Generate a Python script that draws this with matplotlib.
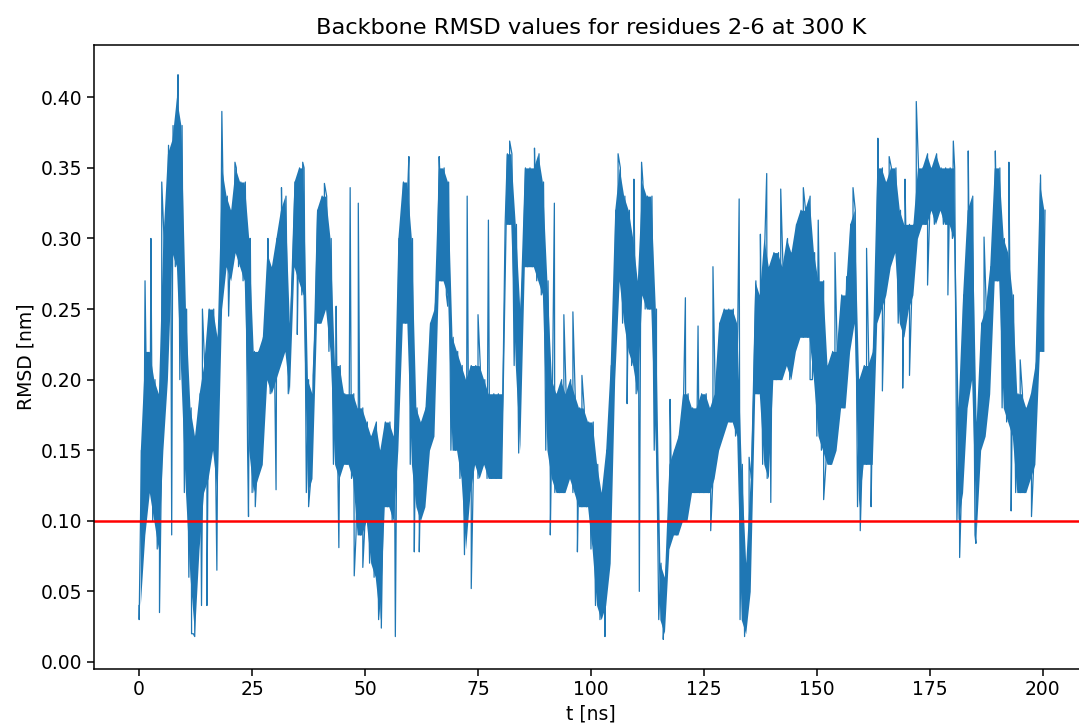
import numpy as np
import matplotlib as mpl
mpl.use('Agg')
import matplotlib.pyplot as plt

# sampled time in ns, one entry per ns
t_ns = np.arange(0, 201)

# lower / upper edge of the dense RMSD band in each ns (nm)
rmsd_lo = [0.04, 0.09, 0.12, 0.10, 0.08, 0.15, 0.20, 0.29, 0.28, 0.20,
           0.12, 0.06, 0.02, 0.08, 0.12, 0.13, 0.15, 0.12, 0.25, 0.28,
           0.27, 0.29, 0.28, 0.27, 0.15, 0.12, 0.13, 0.14, 0.20, 0.19,
           0.20, 0.21, 0.22, 0.19, 0.28, 0.27, 0.26, 0.12, 0.13, 0.24,
           0.24, 0.25, 0.22, 0.14, 0.13, 0.14, 0.14, 0.13, 0.09, 0.09,
           0.10, 0.07, 0.06, 0.03, 0.11, 0.11, 0.10, 0.15, 0.24, 0.24,
           0.14, 0.11, 0.10, 0.11, 0.15, 0.16, 0.27, 0.27, 0.26, 0.15,
           0.15, 0.13, 0.08, 0.12, 0.14, 0.13, 0.14, 0.13, 0.13, 0.13,
           0.13, 0.31, 0.31, 0.21, 0.15, 0.28, 0.28, 0.28, 0.27, 0.26,
           0.15, 0.13, 0.12, 0.12, 0.12, 0.13, 0.12, 0.11, 0.11, 0.11,
           0.08, 0.04, 0.03, 0.04, 0.07, 0.20, 0.27, 0.24, 0.22, 0.21,
           0.19, 0.26, 0.25, 0.25, 0.15, 0.03, 0.02, 0.08, 0.09, 0.09,
           0.10, 0.10, 0.12, 0.12, 0.12, 0.12, 0.12, 0.13, 0.15, 0.16,
           0.17, 0.17, 0.16, 0.03, 0.02, 0.05, 0.19, 0.19, 0.14, 0.13,
           0.20, 0.20, 0.20, 0.21, 0.20, 0.22, 0.23, 0.23, 0.23, 0.20,
           0.16, 0.15, 0.14, 0.14, 0.15, 0.18, 0.18, 0.22, 0.24, 0.11,
           0.14, 0.14, 0.14, 0.24, 0.25, 0.26, 0.28, 0.29, 0.24, 0.23,
           0.25, 0.26, 0.30, 0.31, 0.31, 0.32, 0.31, 0.32, 0.31, 0.31,
           0.30, 0.10, 0.12, 0.18, 0.20, 0.09, 0.15, 0.16, 0.19, 0.27,
           0.27, 0.18, 0.17, 0.16, 0.12, 0.12, 0.12, 0.13, 0.14, 0.22,
           0.22]
rmsd_hi = [0.15, 0.22, 0.22, 0.20, 0.19, 0.30, 0.36, 0.37, 0.40, 0.38,
           0.25, 0.18, 0.16, 0.19, 0.21, 0.25, 0.25, 0.23, 0.35, 0.33,
           0.32, 0.35, 0.34, 0.34, 0.30, 0.22, 0.22, 0.23, 0.29, 0.28,
           0.30, 0.32, 0.33, 0.24, 0.34, 0.35, 0.35, 0.20, 0.19, 0.32,
           0.33, 0.33, 0.30, 0.21, 0.21, 0.19, 0.19, 0.19, 0.18, 0.18,
           0.17, 0.16, 0.17, 0.15, 0.17, 0.17, 0.16, 0.30, 0.34, 0.34,
           0.30, 0.18, 0.17, 0.18, 0.24, 0.25, 0.35, 0.35, 0.34, 0.23,
           0.22, 0.21, 0.20, 0.21, 0.21, 0.21, 0.20, 0.19, 0.19, 0.19,
           0.19, 0.36, 0.36, 0.31, 0.25, 0.35, 0.35, 0.35, 0.36, 0.34,
           0.27, 0.20, 0.19, 0.20, 0.19, 0.20, 0.19, 0.18, 0.18, 0.17,
           0.17, 0.14, 0.12, 0.15, 0.21, 0.32, 0.35, 0.33, 0.32, 0.30,
           0.27, 0.34, 0.33, 0.33, 0.25, 0.07, 0.06, 0.14, 0.15, 0.16,
           0.19, 0.19, 0.18, 0.18, 0.19, 0.19, 0.18, 0.19, 0.24, 0.25,
           0.25, 0.25, 0.24, 0.14, 0.07, 0.13, 0.27, 0.26, 0.30, 0.28,
           0.29, 0.29, 0.28, 0.30, 0.29, 0.31, 0.32, 0.32, 0.33, 0.29,
           0.27, 0.27, 0.21, 0.22, 0.22, 0.26, 0.26, 0.31, 0.32, 0.20,
           0.21, 0.21, 0.22, 0.35, 0.35, 0.34, 0.35, 0.35, 0.32, 0.31,
           0.31, 0.31, 0.35, 0.35, 0.36, 0.35, 0.36, 0.35, 0.35, 0.35,
           0.35, 0.18, 0.26, 0.32, 0.33, 0.17, 0.24, 0.25, 0.28, 0.35,
           0.35, 0.30, 0.29, 0.26, 0.19, 0.19, 0.18, 0.19, 0.21, 0.34,
           0.32]

# single-frame excursions outside the band
spike_t = [0.0, 1.3, 2.6, 4.5, 5.0, 6.5, 7.2, 7.5, 8.6, 11.6, 12.3, 13.8, 14.0,
           15.0, 17.2, 18.3, 19.8, 21.2, 24.2, 24.6, 25.7, 28.5, 30.3, 31.5,
           35.0, 36.2, 37.5, 38.5, 41.0, 43.6, 44.2, 46.7, 47.6, 48.5, 49.5,
           53.6, 56.7, 59.7, 60.9, 62.0, 66.4, 68.3, 72.0, 72.6, 73.5, 75.0,
           77.3, 82.0, 84.0, 87.5, 91.0, 91.9, 94.0, 96.0, 97.0, 98.0, 103.1,
           106.0, 108.0, 109.5, 110.7, 111.2, 114.5, 116.0, 117.5, 120.9,
           123.7, 126.5, 127.0, 132.8, 134.0, 135.0, 137.5, 138.9, 139.8,
           142.0, 147.0, 148.5, 150.3, 151.5, 154.0, 156.6, 158.0, 159.6,
           161.0, 162.0, 163.5, 164.5, 166.0, 169.0, 169.5, 170.5, 172.0,
           174.5, 179.0, 180.2, 181.6, 183.5, 185.2, 187.0, 189.5, 192.5,
           193.0, 195.0, 197.5, 199.5]
spike_v = [0.03, 0.27, 0.30, 0.035, 0.34, 0.366, 0.09, 0.38, 0.416, 0.02, 0.018,
           0.04, 0.25, 0.04, 0.065, 0.39, 0.245, 0.354, 0.103, 0.30, 0.11, 0.30,
           0.122, 0.336, 0.232, 0.354, 0.11, 0.203, 0.339, 0.252, 0.081, 0.336,
           0.061, 0.325, 0.067, 0.024, 0.018, 0.358, 0.078, 0.078, 0.358, 0.252,
           0.076, 0.33, 0.052, 0.246, 0.313, 0.369, 0.148, 0.364, 0.09, 0.325,
           0.246, 0.248, 0.078, 0.203, 0.018, 0.36, 0.183, 0.342, 0.05, 0.354,
           0.171, 0.016, 0.186, 0.258, 0.238, 0.093, 0.28, 0.328, 0.018, 0.145,
           0.303, 0.346, 0.113, 0.335, 0.336, 0.2, 0.313, 0.115, 0.29, 0.273,
           0.336, 0.093, 0.293, 0.11, 0.371, 0.192, 0.358, 0.194, 0.342, 0.203,
           0.397, 0.267, 0.26, 0.369, 0.074, 0.362, 0.084, 0.301, 0.362, 0.354,
           0.107, 0.214, 0.103, 0.345]

threshold = 0.1
blue = '#1f77b4'
fs = 13.5

# zigzag through the band, then drop the spikes in at their times
t_all = np.concatenate([t_ns, t_ns + 0.5, spike_t])
v_all = np.concatenate([rmsd_lo, rmsd_hi, spike_v])
order = np.argsort(t_all, kind='stable')
t_all = t_all[order]
v_all = v_all[order]

fig = plt.figure(figsize=(10.79, 7.28), dpi=100)
ax = fig.add_axes([0.0871, 0.081, 0.9212, 0.8571])
# dense core of the trace
ax.fill_between(t_ns + 0.25, rmsd_lo, rmsd_hi, color=blue, linewidth=0)
ax.plot(t_all, v_all, color=blue, linewidth=0.9)
ax.axhline(threshold, color='r', linewidth=1.8)

ax.set_xlim(-10, 210)
ax.set_ylim(-0.005, 0.437)
ax.set_yticks(np.arange(0, 0.401, 0.05))
ax.set_xticks(np.arange(0, 201, 25))
ax.yaxis.set_major_formatter(mpl.ticker.FormatStrFormatter('%.2f'))
ax.tick_params(labelsize=fs, length=4.7, width=1.1)
for sp in ax.spines.values():
    sp.set_linewidth(1.1)
ax.set_title('Backbone RMSD values for residues 2-6 at 300 K', fontsize=16.2, pad=8)
ax.set_xlabel('t [ns]', fontsize=fs)
ax.set_ylabel('RMSD [nm]', fontsize=fs)

plt.savefig('out.png', dpi=100)
